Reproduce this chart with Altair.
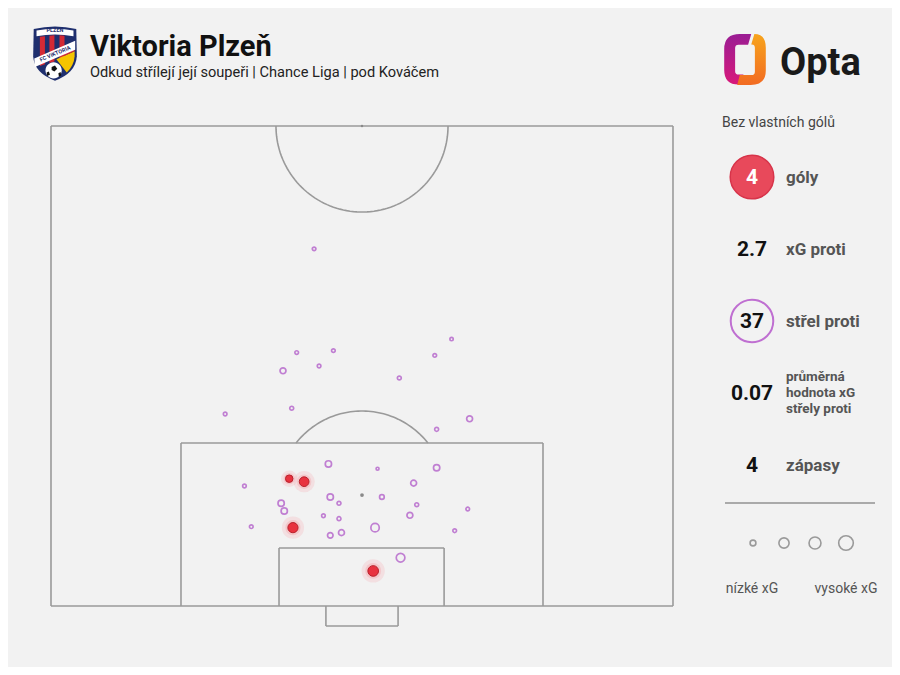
import altair as alt
import pandas as pd
import numpy as np

FONT = "Roboto"

# ---- shots against (x: across pitch 0-100 left->right, y: distance from goal line, 50 = halfway) ----
shot_x = [42.3, 39.5, 45.4, 37.3, 43.1, 56.0, 61.7, 64.4, 28.0, 38.7, 62.0, 67.3,
          44.6, 52.5, 62.0, 31.1, 58.3, 37.0, 37.5, 44.9, 46.3, 53.2, 58.8, 67.0,
          57.7, 43.8, 46.3, 32.2, 52.1, 64.9, 44.9, 46.7, 56.2]
shot_y = [37.2, 26.4, 26.6, 24.5, 25.0, 23.75, 26.1, 27.8, 20.0, 20.6, 18.4, 19.5,
          14.8, 14.3, 14.4, 12.5, 12.8, 10.7, 9.9, 11.35, 10.7, 11.35, 10.55, 10.1,
          9.45, 9.4, 9.1, 8.26, 8.16, 7.84, 7.36, 7.64, 5.03]
shot_xg = [0.03, 0.03, 0.03, 0.08, 0.03, 0.035, 0.03, 0.025, 0.03, 0.035, 0.035, 0.08,
           0.09, 0.02, 0.09, 0.03, 0.08, 0.09, 0.09, 0.09, 0.035, 0.05, 0.035, 0.03,
           0.08, 0.03, 0.035, 0.03, 0.16, 0.03, 0.07, 0.08, 0.17]

goal_x = [38.3, 40.7, 38.9, 51.8]
goal_y = [13.26, 12.95, 8.16, 3.65]
goal_xg = [0.12, 0.20, 0.22, 0.24]

# ---- pitch markings ----
line_x1 = [0, 0, 0, 100, 20.9, 79.1, 20.9, 36.66, 63.2, 36.66, 44.2, 55.8, 44.2]
line_y1 = [0, 50, 0, 0, 0, 0, 16.98, 0, 0, 6.04, 0, 0, -2.08]
line_x2 = [100, 100, 0, 100, 20.9, 79.1, 79.1, 36.66, 63.2, 63.2, 44.2, 55.8, 55.8]
line_y2 = [0, 50, 50, 50, 16.98, 16.98, 16.98, 6.04, 6.04, 6.04, -2.08, -2.08, -2.08]

spot_x = [50, 50]
spot_y = [11.56, 50]

# ---- stats panel ----
stat_values = ["4", "2.7", "37", "0.07", "4"]
stat_labels = ["góly", "xG proti", "střel proti", "průměrná|hodnota xG|střely proti", "zápasy"]
title = "Viktoria Plzeň"
subtitle = "Odkud střílejí její soupeři | Chance Liga | pod Kováčem"
note = "Bez vlastních gólů"
legend_low, legend_high = "nízké xG", "vysoké xG"

shots = pd.DataFrame({"x": shot_x, "y": shot_y, "xg": shot_xg})
goals = pd.DataFrame({"x": goal_x, "y": goal_y, "xg": goal_xg})
lines = pd.DataFrame({"x": line_x1, "y": line_y1, "x2": line_x2, "y2": line_y2})
spots = pd.DataFrame({"x": spot_x, "y": spot_y, "s": [14, 6]})

# arcs (pitch geometry)
rows = []
t = np.linspace(np.pi, 2 * np.pi, 80)
for i, a in enumerate(t):
    rows.append({"arc": "c", "i": i, "x": 50 + 13.83 * np.cos(a), "y": 50 + 8.96 * np.sin(a)})
a0 = np.arcsin((16.98 - 11.56) / 8.75)
t2 = np.linspace(a0, np.pi - a0, 60)
for i, a in enumerate(t2):
    rows.append({"arc": "p", "i": i, "x": 50 + 13.5 * np.cos(a), "y": 11.56 + 8.75 * np.sin(a)})
arcs = pd.DataFrame(rows)

W, H = 884, 659
xs = alt.Scale(domain=[-6.913, 135.21], nice=False, zero=False)
ys = alt.Scale(domain=[-6.354, 62.29], nice=False, zero=False)
X = lambda f="x": alt.X(f + ":Q", scale=xs, axis=None)
Y = lambda f="y": alt.Y(f + ":Q", scale=ys, axis=None)

LINE = "#9a9a9a"
PURPLE = "#c07fd2"

pitch_lines = alt.Chart(lines).mark_rule(color=LINE, strokeWidth=1.6).encode(
    x=X(), y=Y(), x2="x2:Q", y2="y2:Q")
pitch_arcs = alt.Chart(arcs).mark_line(color=LINE, strokeWidth=1.6).encode(
    x=X(), y=Y(), detail="arc:N", order="i:Q")
pitch_spots = alt.Chart(spots).mark_point(filled=True, color="#8a8a8a", opacity=1).encode(
    x=X(), y=Y(), size=alt.Size("s:Q", scale=None))

shot_layer = alt.Chart(shots).mark_point(filled=False, color=PURPLE, strokeWidth=1.7, opacity=1).encode(
    x=X(), y=Y(), size=alt.Size("xg:Q", scale=alt.Scale(domain=[0, 0.25], range=[0, 110]), legend=None))

halo1 = alt.Chart(goals).mark_point(filled=True, color="#f6b3b8", opacity=0.3, strokeWidth=0).encode(
    x=X(), y=Y(), size=alt.Size("xg:Q", scale=alt.Scale(domain=[0, 0.25], range=[0, 560]), legend=None))
halo2 = alt.Chart(goals).mark_point(filled=True, color="#f39aa1", opacity=0.35, strokeWidth=0).encode(
    x=X(), y=Y(), size=alt.Size("xg:Q", scale=alt.Scale(domain=[0, 0.25], range=[0, 260]), legend=None))
goal_layer = alt.Chart(goals).mark_point(filled=True, fill="#e8323f", stroke="#b8202b", strokeWidth=1,
                                         opacity=1).encode(
    x=X(), y=Y(), size=alt.Size("xg:Q", scale=alt.Scale(domain=[0, 0.25], range=[0, 118]), legend=None))

one = pd.DataFrame({"a": [0]})


def txt(s, x, y, size, color, weight="normal", align="left", baseline="middle", angle=0):
    return alt.Chart(one).mark_text(text=s, align=align, baseline=baseline, fontSize=size,
                                    fontWeight=weight, color=color, font=FONT, angle=angle).encode(
        x=alt.value(x), y=alt.value(y))


def dot(x, y, size, **kw):
    return alt.Chart(one).mark_point(opacity=1, **kw).encode(
        x=alt.value(x), y=alt.value(y), size=alt.value(size))


layers = [pitch_lines, pitch_arcs, pitch_spots, shot_layer, halo1, halo2, goal_layer]

# header
layers += [txt(title, 82, 48, 29, "#111111", "bold", baseline="alphabetic"),
           txt(subtitle, 82, 69, 14.6, "#222222", baseline="alphabetic")]

# crest (custom symbol paths in unit coordinates)
crest_paths = [
    ("M-0.76,-0.86 Q0,-1.04 0.76,-0.86 L0.78,0.12 Q0.74,0.72 0,0.99 Q-0.74,0.72 -0.78,0.12 Z", "#1f2f6e"),
    ("M-0.66,-0.8 Q0,-0.94 0.66,-0.8 L0.66,-0.6 Q0,-0.72 -0.66,-0.6 Z", "#ffffff"),
    ("M-0.54,-0.58 L-0.36,-0.6 L-0.36,0.4 L-0.54,0.46 Z", "#d42a35"),
    ("M-0.2,-0.62 L-0.02,-0.63 L-0.02,0.3 L-0.2,0.36 Z", "#d42a35"),
    ("M0.16,-0.63 L0.34,-0.62 L0.34,0.2 L0.16,0.26 Z", "#d42a35"),
    ("M0.05,0.22 L0.7,-0.06 L0.7,0.12 Q0.68,0.45 0.42,0.7 Z", "#f5c400"),
    ("M0.7,-0.3 L0.7,-0.06 L0.3,0.12 L0.25,-0.12 Z", "#d42a35"),
    ("M-0.74,0.2 L0.72,-0.44 L0.72,-0.12 L-0.72,0.5 Z", "#ffffff"),
    ("M-0.34,0.62 A0.29,0.29 0 1,0 0.24,0.62 A0.29,0.29 0 1,0 -0.34,0.62 Z", "#ffffff"),
    ("M-0.12,0.5 L0.0,0.45 L0.08,0.56 L-0.02,0.66 L-0.12,0.61 Z", "#111111"),
    ("M-0.3,0.7 L-0.22,0.66 L-0.18,0.78 L-0.28,0.82 Z", "#111111"),
    ("M0.12,0.72 L0.2,0.68 L0.22,0.8 L0.14,0.84 Z", "#111111"),
]
crest = pd.DataFrame({"path": [p for p, _ in crest_paths], "col": [c for _, c in crest_paths],
                      "k": list(range(len(crest_paths)))})
layers.append(alt.Chart(crest).mark_point(filled=True, opacity=1, strokeWidth=0).encode(
    x=alt.value(47), y=alt.value(45), size=alt.value(3136),
    shape=alt.Shape("path:N", scale=None, legend=None),
    fill=alt.Fill("col:N", scale=None, legend=None), order="k:Q"))
layers += [txt("PLZEŇ", 47, 21.5, 5.5, "#1f2f6e", "bold", align="center"),
           txt("FC VIKTORIA", 47, 45.5, 5.5, "#1f2f6e", "bold", align="center", angle=337)]

# Opta logo
left_piece = ("M0.24,-0.98 L-0.2,-0.98 Q-0.8,-0.98 -0.8,-0.4 L-0.8,0.4 Q-0.8,0.96 -0.25,0.96 "
              "L-0.14,0.96 L-0.06,0.58 L-0.24,0.58 Q-0.38,0.58 -0.38,0.45 L-0.38,-0.44 "
              "Q-0.38,-0.57 -0.25,-0.57 L0.12,-0.57 Z")
right_piece = ("M0.36,-0.98 Q0.8,-0.98 0.8,-0.45 L0.8,0.42 Q0.8,0.98 0.22,0.98 L-0.3,0.98 "
               "L-0.2,0.6 L0.25,0.6 Q0.38,0.6 0.38,0.47 L0.38,-0.45 Q0.38,-0.58 0.26,-0.58 "
               "L0.24,-0.58 Z")
gl = alt.Gradient(gradient="linear", x1=0, y1=0, x2=0, y2=1,
                  stops=[alt.GradientStop(color="#9a1d94", offset=0),
                         alt.GradientStop(color="#d8197a", offset=1)])
gr = alt.Gradient(gradient="linear", x1=0, y1=0, x2=0, y2=1,
                  stops=[alt.GradientStop(color="#f7a41c", offset=0),
                         alt.GradientStop(color="#f26b22", offset=1)])
layers += [dot(737, 51.5, 2704, shape=left_piece, filled=True, fill=gl, strokeWidth=0),
           dot(737, 51.5, 2704, shape=right_piece, filled=True, fill=gr, strokeWidth=0),
           txt("Opta", 772, 67, 38, "#1a1a1a", "bold", baseline="alphabetic")]

# stats panel
LBL = "#555555"
layers.append(txt(note, 714, 119, 14, "#444444", baseline="alphabetic"))
rows_y = [169, 241, 313, 385, 457]
layers.append(dot(744, rows_y[0], 1900, shape="circle", filled=True, fill="#e8495b",
                  stroke="#d7344a", strokeWidth=1.5))
layers.append(dot(744, rows_y[2], 1810, shape="circle", filled=False, stroke="#bf6fd1", strokeWidth=2))
for i, (v, lab) in enumerate(zip(stat_values, stat_labels)):
    col = "#ffffff" if i == 0 else "#111111"
    layers.append(txt(v, 744, rows_y[i] + 1, 21, col, "bold", align="center"))
    parts = lab.split("|")
    if len(parts) == 1:
        layers.append(txt(lab, 778, rows_y[i] + 1, 17, LBL, "bold"))
    else:
        for j, p in enumerate(parts):
            layers.append(txt(p, 778, rows_y[i] - 16 + 16 * j, 13.5, LBL, "bold"))

layers.append(alt.Chart(one).mark_rule(color="#aaaaaa", strokeWidth=2).encode(
    x=alt.value(717), x2=alt.value(867), y=alt.value(495)))
for lx, ls in zip([745, 776, 807, 838], [34, 104, 143, 214]):
    layers.append(dot(lx, 535, ls, shape="circle", filled=False, stroke="#9a9a9a", strokeWidth=1.6))
layers += [txt(legend_low, 744, 581, 14, LBL, align="center"),
           txt(legend_high, 838, 581, 14, LBL, align="center")]

chart = alt.layer(*layers).resolve_scale(size="independent").properties(
    width=W, height=H, padding=0, autosize=alt.AutoSizeParams(type="none"),
    background="#f2f2f2"
).configure_view(stroke=None)

chart.save("out.html", embed_options={"renderer": "svg", "actions": False})
